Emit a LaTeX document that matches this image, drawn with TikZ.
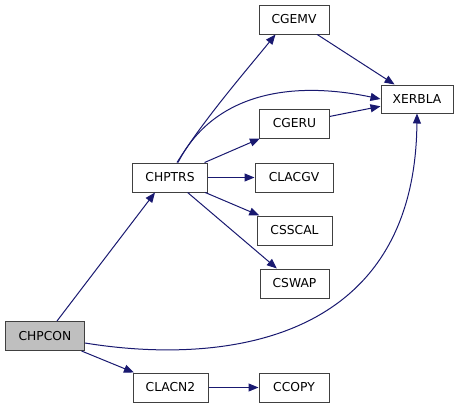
\documentclass[tikz,border=0pt]{standalone}
\usepackage{fontspec}
\setmainfont{DejaVu Sans}
\usetikzlibrary{arrows.meta}
\definecolor{edgec}{HTML}{191970}
\definecolor{boxc}{HTML}{404040}
\begin{document}
\begin{tikzpicture}[x=1pt,y=-1pt,
  fn/.style={draw=boxc,line width=1pt,fill=white,minimum height=29pt,inner sep=0pt,font=\fontsize{12.3}{14}\selectfont},
  edge/.style={draw=edgec,line width=1pt,-{Triangle[length=10pt,width=8pt]}}]
\useasboundingbox (0,0) rectangle (459,408);
\node[fn,fill={rgb,255:red,191;green,191;blue,191},minimum width=79pt] (chpcon) at (45,336) {CHPCON};
\node[fn,minimum width=75pt] (chptrs) at (170,177.5) {CHPTRS};
\node[fn,minimum width=75pt] (clacn2) at (170.5,387.5) {CLACN2};
\node[fn,minimum width=70pt] (cgemv) at (294,19.5) {CGEMV};
\node[fn,minimum width=70pt] (cgeru) at (294.5,123.5) {CGERU};
\node[fn,minimum width=78pt] (clacgv) at (294,177.5) {CLACGV};
\node[fn,minimum width=75pt] (csscal) at (294.5,230.5) {CSSCAL};
\node[fn,minimum width=69pt] (cswap) at (294.5,283.5) {CSWAP};
\node[fn,minimum width=70pt] (ccopy) at (294,387.5) {CCOPY};
\node[fn,minimum width=72pt,minimum height=28pt] (xerbla) at (417,99) {XERBLA};
\coordinate (p1) at ([xshift=12pt]chpcon.north);
\coordinate (q1) at ([xshift=-15pt]chptrs.south);
\draw[edge] (p1) -- (q1);
\draw[edge] (chpcon) -- (clacn2);
\coordinate (p2) at ([yshift=-7pt]chpcon.east);
\draw[edge] (p2) .. controls (220,365) and (415,345) .. (xerbla.south);
\coordinate (p3) at ([xshift=8pt]chptrs.north);
\draw[edge] (p3) .. controls (210,100) and (280,78) .. (xerbla.west);
\coordinate (p4) at ([xshift=7pt]chptrs.north);
\coordinate (q4) at ([xshift=17pt]cgemv.south west);
\draw[edge] (p4) .. controls (205,118) and (245,72) .. (q4);
\draw[edge] (chptrs) -- (cgeru);
\draw[edge] (chptrs) -- (clacgv);
\draw[edge] (chptrs) -- (csscal);
\draw[edge] (chptrs) -- (cswap);
\draw[edge] (cgemv) -- (xerbla);
\draw[edge] (cgeru) -- (xerbla);
\draw[edge] (clacn2) -- (ccopy);
\end{tikzpicture}
\end{document}
